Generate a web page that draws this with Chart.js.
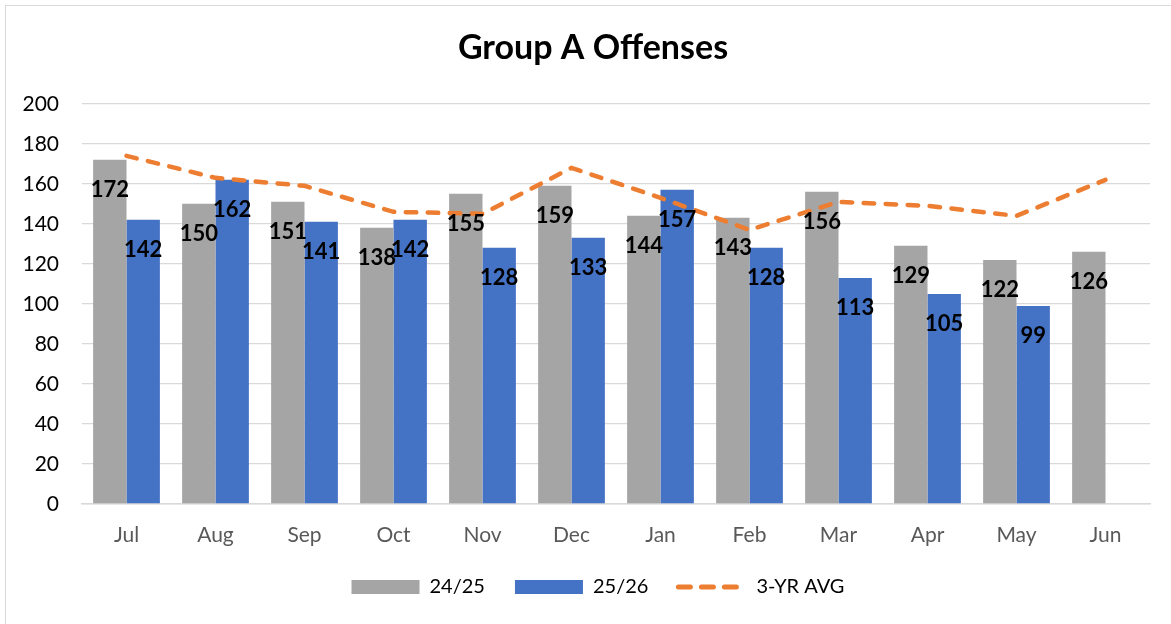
<!DOCTYPE html>
<html>
<head>
<meta charset="utf-8">
<script src="https://cdn.jsdelivr.net/npm/chart.js@4.4.1/dist/chart.umd.min.js"></script>
<style>
  html, body { margin: 0; padding: 0; background: #fff; }
  #wrap { position: relative; width: 1171px; height: 624px; overflow: hidden; }
  #frame { position: absolute; left: 5px; top: 5px; width: 1166px; height: 619px; border-left: 1.5px solid #d9d9d9; border-top: 1.5px solid #d9d9d9; box-sizing: border-box; pointer-events: none; }
  canvas { position: absolute; left: 0; top: 0; }
</style>
</head>
<body>
<div id="wrap">
  <canvas id="offenseChart" width="1171" height="624"></canvas>
  <div id="frame"></div>
</div>
<script>
const months = ["Jul", "Aug", "Sep", "Oct", "Nov", "Dec", "Jan", "Feb", "Mar", "Apr", "May", "Jun"];
const fy2425 = [172, 150, 151, 138, 155, 159, 144, 143, 156, 129, 122, 126];
const fy2526 = [142, 162, 141, 142, 128, 133, 157, 128, 113, 105, 99, null];
const threeYrAvg = [174, 163, 159, 146, 145, 168, 153, 137, 151, 149, 144, 162];
const yTicks = [0, 20, 40, 60, 80, 100, 120, 140, 160, 180, 200];

const FONT = "Lato, 'Open Sans', sans-serif";

// bold value labels inside the top of each bar
const barLabels = {
  id: "barLabels",
  afterDatasetsDraw(chart) {
    const ctx = chart.ctx;
    ctx.save();
    ctx.font = "bold 22px " + FONT;
    ctx.fillStyle = "#000";
    ctx.textAlign = "center";
    ctx.textBaseline = "middle";
    chart.data.datasets.forEach((ds, i) => {
      if (ds.type !== "bar") return;
      chart.getDatasetMeta(i).data.forEach((bar, j) => {
        const v = ds.data[j];
        if (v == null) return;
        ctx.fillText(String(v), bar.x, bar.y + 30);
      });
    });
    ctx.restore();
  }
};

// title and legend sit centred over the whole frame, not the plot
const centreBlocks = {
  id: "centreBlocks",
  afterLayout(chart) {
    if (chart.titleBlock) { chart.titleBlock.left += 18; chart.titleBlock.right += 18; }
    if (chart.legend) { chart.legend.left += 23; chart.legend.right += 23; }
  }
};

const ctx = document.getElementById("offenseChart").getContext("2d");
new Chart(ctx, {
  data: {
    labels: months,
    datasets: [{
      type: "bar",
      label: "24/25",
      data: fy2425,
      backgroundColor: "#a5a5a5",
      borderWidth: 0,
      order: 1
    }, {
      type: "bar",
      label: "25/26",
      data: fy2526,
      backgroundColor: "#4472c4",
      borderWidth: 0,
      order: 1
    }, {
      type: "line",
      label: "3-YR AVG",
      data: threeYrAvg,
      borderColor: "#ed7d31",
      backgroundColor: "#ed7d31",
      borderWidth: 4.5,
      borderDash: [10.5, 11.5],
      borderCapStyle: "round",
      tension: 0,
      pointRadius: 0,
      order: 0
    }]
  },
  options: {
    responsive: false,
    animation: false,
    events: [],
    layout: { padding: { left: 0, right: 21, top: 0, bottom: 17 } },
    datasets: {
      bar: { categoryPercentage: 0.75, barPercentage: 1 }
    },
    scales: {
      x: {
        grid: { display: false, drawTicks: false },
        border: { color: "#d9d9d9", width: 1.5 },
        ticks: { color: "#595959", padding: 19, font: { family: FONT, size: 21 } },
        afterFit(scale) { scale.height = 43; }
      },
      y: {
        min: 0,
        max: 200,
        afterBuildTicks(scale) { scale.ticks = yTicks.map(v => ({ value: v })); },
        grid: { color: "#d9d9d9", lineWidth: 1.3, drawTicks: false },
        border: { display: false },
        ticks: { color: "#000", padding: 23, font: { family: FONT, size: 21 } },
        afterFit(scale) { scale.width = 82; }
      }
    },
    plugins: {
      title: {
        display: true,
        text: "Group A Offenses",
        color: "#000",
        font: { family: FONT, size: 34, weight: "bold" },
        padding: { top: 28, bottom: 35 }
      },
      legend: {
        position: "bottom",
        labels: {
          usePointStyle: true,
          pointStyleWidth: 68,
          boxHeight: 14,
          padding: 30,
          color: "#000",
          font: { family: FONT, size: 20 },
          sort: (a, b) => a.datasetIndex - b.datasetIndex,
          generateLabels(chart) {
            const items = Chart.defaults.plugins.legend.labels.generateLabels(chart);
            items.forEach(item => {
              const ds = chart.data.datasets[item.datasetIndex];
              if (ds.type === "line") {
                item.pointStyle = "line";
                item.strokeStyle = ds.borderColor;
                item.lineWidth = 5;
                item.lineDash = [12, 11];
                item.lineCap = "round";
              } else {
                item.pointStyle = "rect";
                item.lineWidth = 0;
              }
            });
            return items;
          }
        }
      },
      tooltip: { enabled: false }
    }
  },
  plugins: [barLabels, centreBlocks]
});
</script>
</body>
</html>
